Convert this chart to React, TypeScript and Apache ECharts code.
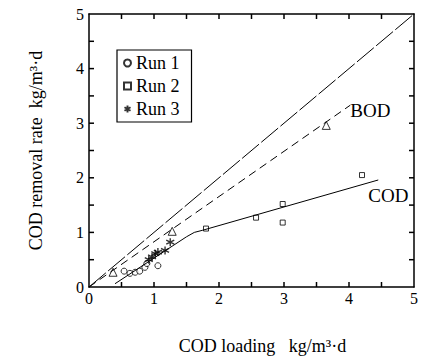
import React, { useEffect, useRef } from "react";
import * as echarts from "echarts";

const run1: number[][] = [
  [0.54, 0.29], [0.63, 0.25], [0.71, 0.27], [0.78, 0.29], [0.86, 0.36], [0.89, 0.43], [1.06, 0.39],
];
const run2: number[][] = [
  [1.8, 1.07], [2.57, 1.27], [2.98, 1.52], [2.98, 1.18], [4.2, 2.05],
];
const run3: number[][] = [
  [0.92, 0.5], [0.97, 0.55], [1.02, 0.61], [1.06, 0.64], [1.17, 0.67], [1.25, 0.82],
];
const bodPoints: number[][] = [
  [0.37, 0.27], [1.28, 1.02], [3.65, 2.96],
];
const oneToOneLine: number[][] = [[0, 0], [5, 5]];
const bodLine: number[][] = [[0, 0], [4.02, 3.33]];
const codLine: number[][] = [
  [0.4, 0.06], [1.5, 0.92], [1.62, 1.0], [1.75, 1.04], [4.45, 1.96],
];
const axisMin = 0;
const axisMax = 5;
const labelStep = 1;
const tickValues = [0.5, 1, 1.5, 2, 2.5, 3, 3.5, 4, 4.5];

const FONT = "Liberation Serif, DejaVu Serif, serif";
const STAR = "path://M5,0L5,10M0.67,2.5L9.33,7.5M0.67,7.5L9.33,2.5";

export default function App() {
  const ref = useRef<HTMLDivElement>(null);
  useEffect(() => {
    if (!ref.current) return;
    const chart = echarts.init(ref.current, null, { renderer: "svg" });
    const mainAxis = (pos: string, labels: boolean, extra: any) => ({
      type: "value",
      position: pos,
      min: axisMin,
      max: axisMax,
      interval: labelStep,
      axisLine: { show: true, onZero: false, lineStyle: { color: "#000", width: 1.5 } },
      axisTick: { show: false },
      splitLine: { show: false },
      axisLabel: labels
        ? { show: true, fontFamily: FONT, fontSize: 16, color: "#000", margin: pos === "left" ? 5 : 3 }
        : { show: false },
      ...extra,
    });
    const TL = 5;
    const tickStyle = { stroke: "#000", lineWidth: 1.5 };
    chart.setOption({
      animation: false,
      backgroundColor: "#fff",
      textStyle: { fontFamily: FONT },
      grid: { left: 89, right: 18, top: 14, bottom: 66 },
      legend: {
        data: ["Run 1", "Run 2", "Run 3"],
        orient: "vertical",
        left: 117,
        top: 50,
        borderColor: "#000",
        borderWidth: 1.2,
        borderRadius: 0,
        padding: [4, 12, 4, 6],
        itemWidth: 7,
        itemHeight: 7,
        itemGap: 5,
        textStyle: { fontFamily: FONT, fontSize: 18, color: "#000" },
      },
      xAxis: [
        mainAxis("bottom", true, {
          name: "COD loading   kg/m³·d",
          nameLocation: "middle",
          nameGap: 50,
          nameTextStyle: { fontFamily: FONT, fontSize: 18, color: "#000", padding: [0, 0, 0, 22] },
        }),
        mainAxis("top", false, {}),
      ],
      yAxis: [
        mainAxis("left", true, {
          name: "COD removal rate  kg/m³·d",
          nameLocation: "middle",
          nameGap: 44,
          nameTextStyle: { fontFamily: FONT, fontSize: 18, color: "#000" },
        }),
        mainAxis("right", false, {}),
      ],
      series: [
        {
          name: "ticks",
          type: "custom",
          silent: true,
          clip: false,
          z: 5,
          data: tickValues.map((v) => [v, v]),
          renderItem: (_params: any, api: any) => {
            const v = api.value(0);
            const pb = api.coord([v, axisMin]);
            const pt = api.coord([v, axisMax]);
            const pl = api.coord([axisMin, v]);
            const pr = api.coord([axisMax, v]);
            return {
              type: "group",
              children: [
                { type: "line", shape: { x1: pb[0], y1: pb[1], x2: pb[0], y2: pb[1] - TL }, style: tickStyle },
                { type: "line", shape: { x1: pt[0], y1: pt[1], x2: pt[0], y2: pt[1] + TL }, style: tickStyle },
                { type: "line", shape: { x1: pl[0], y1: pl[1], x2: pl[0] + TL, y2: pl[1] }, style: tickStyle },
                { type: "line", shape: { x1: pr[0], y1: pr[1], x2: pr[0] - TL, y2: pr[1] }, style: tickStyle },
              ],
            };
          },
        },
        {
          name: "1:1",
          type: "line",
          data: oneToOneLine,
          symbol: "none",
          lineStyle: { color: "#000", width: 1, type: [22, 3] },
        },
        {
          name: "BOD",
          type: "line",
          data: bodLine,
          symbol: "none",
          lineStyle: { color: "#000", width: 1, type: [8, 5] },
          endLabel: { show: true, formatter: "BOD", distance: 0, offset: [0, 5], fontFamily: FONT, fontSize: 19, color: "#000" },
        },
        {
          name: "COD",
          type: "line",
          data: codLine,
          symbol: "none",
          lineStyle: { color: "#000", width: 1 },
          endLabel: { show: true, formatter: "COD", distance: 0, offset: [-10, 16], fontFamily: FONT, fontSize: 19, color: "#000" },
        },
        {
          name: "BOD points",
          type: "scatter",
          data: bodPoints,
          symbol: "triangle",
          symbolSize: 8,
          itemStyle: { color: "#fff", borderColor: "#000", borderWidth: 1 },
        },
        {
          name: "Run 1",
          type: "scatter",
          data: run1,
          symbol: "circle",
          symbolSize: 6,
          itemStyle: { color: "#fff", borderColor: "#000", borderWidth: 1 },
        },
        {
          name: "Run 2",
          type: "scatter",
          data: run2,
          symbol: "rect",
          symbolSize: 5,
          itemStyle: { color: "#fff", borderColor: "#000", borderWidth: 1 },
        },
        {
          name: "Run 3",
          type: "scatter",
          data: run3,
          symbol: STAR,
          symbolSize: 8,
          itemStyle: { color: "#000", borderColor: "#000", borderWidth: 1.4 },
        },
      ],
    });
    return () => chart.dispose();
  }, []);
  return <div ref={ref} style={{ width: 432, height: 360, position: "fixed", left: 0, top: 0 }} />;
}
